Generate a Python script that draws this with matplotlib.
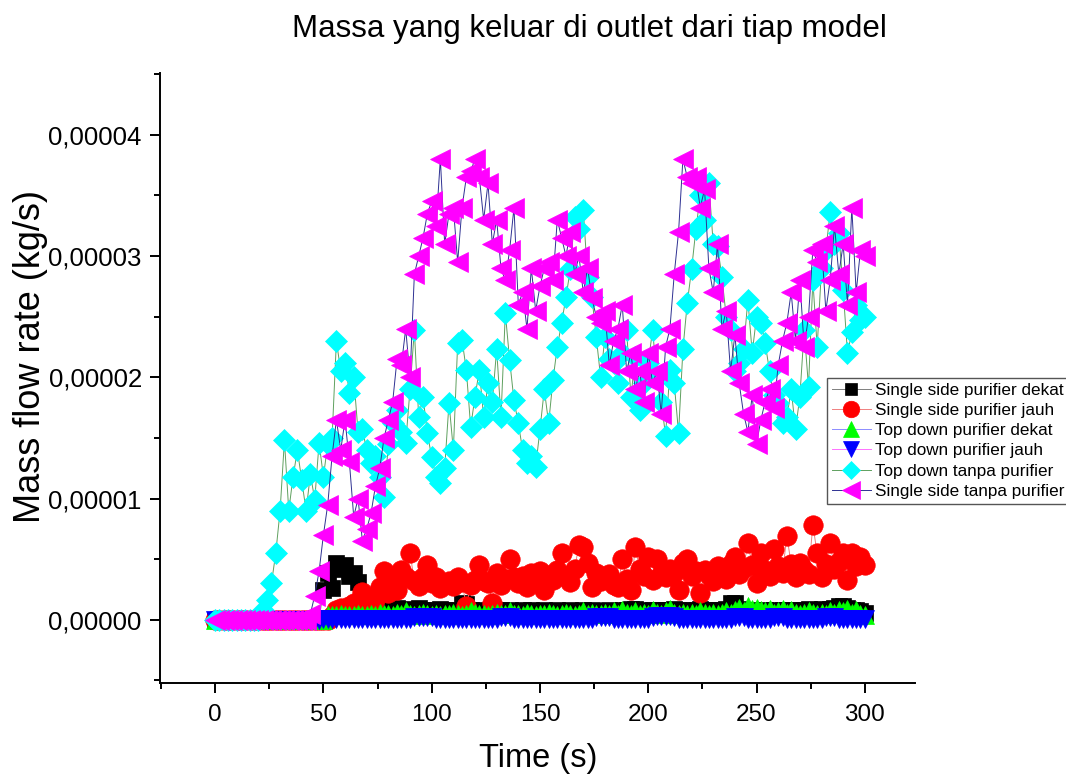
"""Mass flow rate leaving the outlet for each purifier configuration."""

import matplotlib
matplotlib.use("Agg")
import matplotlib.pyplot as plt
import numpy as np
from matplotlib.ticker import FuncFormatter, MultipleLocator

plt.rcParams["font.family"] = ["Liberation Sans", "DejaVu Sans"]

# sample time (s), one record every 2 s
TIME = np.arange(0, 302, 2)

# mass flow rate per configuration, in 1e-6 kg/s
SINGLE_DEKAT = [
    0, 0, 0, 0, 0, 0, 0, 0, 0, 0,
    0, 0, 0, 0, 0, 0, 0, 0, 0, 0,
    0, 0, 0, 0, 0, 2.5, 3.9, 2.6, 4.7, 4.2,
    4.5, 3.6, 3.9, 3.1, 1.5, 1.2, 1.0, 0.9, 1.0, 1.1,
    0.9, 0.8, 1.0, 0.8, 0.9, 0.7, 0.8, 1.0, 0.8, 0.7,
    0.8, 0.7, 0.9, 0.8, 0.7, 0.8, 0.7, 1.4, 1.3, 0.8,
    0.7, 0.8, 0.7, 0.7, 0.8, 0.7, 0.8, 0.7, 0.8, 0.7,
    0.7, 0.8, 0.7, 0.8, 0.7, 0.7, 0.8, 0.7, 0.7, 0.8,
    0.7, 0.7, 0.8, 0.7, 0.7, 0.8, 0.7, 0.8, 0.7, 0.7,
    0.7, 0.8, 0.7, 0.7, 0.8, 0.8, 0.9, 0.9, 0.8, 0.7,
    0.7, 0.8, 0.8, 0.7, 0.8, 0.8, 0.9, 0.8, 0.8, 0.7,
    0.7, 0.8, 0.9, 0.8, 0.8, 0.7, 0.8, 0.8, 0.9, 1.4,
    1.4, 0.9, 0.8, 0.7, 0.8, 0.7, 0.7, 0.8, 0.7, 0.8,
    0.7, 0.8, 0.7, 0.8, 0.7, 0.8, 0.8, 0.9, 0.8, 0.8,
    0.9, 0.8, 0.9, 1.0, 1.1, 1.1, 1.0, 0.8, 0.8, 0.7,
    0.6,
]

SINGLE_JAUH = [
    0, 0, 0, 0, 0, 0, 0, 0, 0, 0,
    0, 0, 0, 0, 0, 0, 0, 0, 0, 0,
    0, 0, 0, 0, 0, 0, 0, 0.3, 0.8, 1.0,
    0.9, 1.1, 1.4, 1.3, 2.3, 1.5, 1.8, 1.6, 2.7, 4.0,
    2.2, 3.0, 2.5, 4.1, 3.5, 5.5, 3.2, 2.8, 3.5, 4.5,
    3.0, 3.5, 2.6, 3.0, 3.2, 2.8, 3.5, 3.1, 1.1, 2.9,
    3.3, 4.5, 3.2, 3.0, 1.4, 3.9, 2.9, 3.4, 5.0, 3.5,
    3.0, 3.6, 2.7, 3.9, 3.4, 4.0, 2.5, 3.7, 3.3, 4.1,
    5.5, 3.6, 3.1, 4.2, 6.2, 6.0, 4.7, 2.7, 3.9, 3.2,
    3.5, 3.8, 2.9, 2.7, 5.0, 3.4, 2.5, 6.0, 4.2, 3.6,
    5.2, 3.3, 5.0, 3.8, 3.5, 4.2, 3.9, 2.5, 4.7, 5.0,
    3.6, 4.0, 2.2, 4.1, 3.7, 3.2, 4.4, 3.9, 3.4, 4.6,
    5.2, 3.8, 4.3, 6.3, 4.5, 3.0, 5.5, 4.1, 3.6, 5.8,
    4.4, 3.9, 6.9, 4.6, 3.5, 4.7, 4.1, 3.8, 7.8, 5.5,
    3.5, 4.6, 6.3, 4.2, 4.8, 5.5, 3.3, 5.5, 4.4, 5.2,
    4.5,
]

TOPDOWN_DEKAT = [
    0, 0, 0, 0, 0, 0, 0, 0, 0, 0,
    0, 0, 0, 0, 0, 0, 0, 0, 0, 0,
    0, 0, 0, 0, 0, 0, 0.4, 0.4, 0.4, 0.5,
    0.4, 0.4, 0.4, 0.5, 0.4, 0.4, 0.5, 0.4, 0.6, 0.5,
    0.5, 0.4, 0.6, 0.5, 0.7, 0.5, 0.4, 0.5, 0.6, 0.5,
    0.4, 0.5, 0.4, 0.5, 0.5, 0.6, 0.5, 0.4, 0.5, 0.7,
    0.6, 0.5, 0.5, 0.4, 0.5, 0.6, 0.5, 0.5, 0.7, 0.5,
    0.5, 0.4, 0.6, 0.5, 0.4, 0.5, 0.5, 0.6, 0.5, 0.4,
    0.5, 0.6, 0.5, 0.4, 0.5, 0.7, 0.5, 0.6, 0.5, 0.5,
    0.6, 0.5, 0.7, 0.5, 0.8, 0.6, 0.5, 0.7, 0.5, 0.6,
    0.5, 0.8, 0.6, 0.5, 0.7, 0.9, 0.6, 0.5, 0.6, 0.5,
    0.6, 0.5, 0.7, 0.6, 0.5, 0.6, 0.5, 0.6, 0.7, 0.6,
    0.8, 1.0, 0.7, 1.1, 0.9, 1.0, 0.8, 0.7, 0.9, 0.6,
    0.7, 0.9, 0.6, 0.8, 0.6, 0.5, 0.6, 0.7, 0.6, 0.5,
    0.6, 0.5, 0.7, 0.6, 0.8, 0.7, 0.9, 0.6, 0.8, 0.5,
    0.4,
]

TOPDOWN_JAUH = [
    0, 0, 0, 0, 0, 0, 0, 0, 0, 0,
    0, 0, 0, 0, 0, 0, 0, 0, 0, 0,
    0, 0, 0, 0, 0, 0.1, 0.1, 0.1, 0.1, 0.1,
    0.1, 0.1, 0.1, 0.1, 0.1, 0.1, 0.1, 0.1, 0.1, 0.1,
    0.1, 0.1, 0.1, 0.1, 0.1, 0.1, 0.2, 0.2, 0.2, 0.2,
    0.2, 0.1, 0.1, 0.1, 0.1, 0.1, 0.1, 0.1, 0.1, 0.1,
    0.1, 0.1, 0.1, 0.1, 0.1, 0.1, 0.2, 0.2, 0.2, 0.1,
    0.1, 0.1, 0.1, 0.1, 0.1, 0.1, 0.1, 0.1, 0.1, 0.1,
    0.1, 0.1, 0.1, 0.1, 0.1, 0.1, 0.1, 0.1, 0.2, 0.2,
    0.2, 0.2, 0.1, 0.1, 0.1, 0.1, 0.1, 0.1, 0.1, 0.1,
    0.1, 0.2, 0.3, 0.3, 0.3, 0.3, 0.2, 0.1, 0.1, 0.1,
    0.1, 0.1, 0.1, 0.1, 0.1, 0.1, 0.1, 0.1, 0.1, 0.1,
    0.2, 0.2, 0.2, 0.1, 0.1, 0.1, 0.1, 0.1, 0.1, 0.2,
    0.2, 0.2, 0.1, 0.1, 0.1, 0.1, 0.1, 0.1, 0.1, 0.1,
    0.1, 0.2, 0.2, 0.2, 0.1, 0.1, 0.1, 0.1, 0.1, 0.1,
    0.1,
]

TOPDOWN_TANPA = [
    0, 0, 0, 0, 0, 0, 0, 0, 0, 0,
    0, 0.8, 1.6, 3.0, 5.5, 9.0, 14.8, 9.0, 11.8, 14.0,
    11.5, 9.0, 12.0, 9.9, 14.6, 11.8, 14.5, 15.0, 23.0, 20.5,
    21.2, 18.7, 20.0, 15.5, 15.7, 14.0, 12.9, 13.5, 11.8, 10.1,
    14.5, 16.2, 17.3, 15.5, 14.6, 19.0, 23.9, 16.7, 18.4, 15.4,
    13.4, 11.8, 11.3, 12.5, 17.9, 14.0, 22.8, 23.1, 20.6, 15.9,
    18.4, 20.6, 16.7, 19.5, 18.0, 22.3, 16.7, 25.3, 21.4, 18.1,
    16.2, 14.0, 12.9, 13.5, 12.6, 15.7, 19.0, 16.2, 19.8, 22.5,
    24.5, 26.6, 28.9, 33.2, 32.2, 33.8, 28.3, 26.6, 23.3, 20.0,
    23.3, 21.5, 21.2, 19.5, 22.0, 23.9, 18.4, 21.7, 17.3, 19.5,
    21.2, 23.9, 20.0, 18.0, 15.2, 20.6, 19.5, 15.4, 22.3, 26.1,
    28.9, 32.2, 35.0, 33.0, 36.0, 31.0, 30.8, 28.3, 25.0, 23.9,
    20.5, 21.2, 22.3, 26.4, 22.0, 25.0, 24.5, 22.8, 20.5, 18.5,
    17.9, 16.2, 16.7, 19.0, 15.7, 18.4, 23.9, 19.2, 28.0, 22.5,
    29.0, 30.5, 33.6, 31.0, 31.9, 27.2, 22.0, 23.7, 26.0, 24.7,
    25.0,
]

SINGLE_TANPA = [
    0, 0, 0, 0, 0, 0, 0, 0, 0, 0,
    0, 0, 0, 0, 0, 0, 0, 0, 0, 0,
    0, 0, 0.5, 2.0, 4.0, 7.0, 9.5, 13.5, 16.5, 14.0,
    16.5, 13.0, 8.5, 10.0, 6.5, 7.5, 8.8, 11.0, 12.5, 15.0,
    16.5, 18.0, 21.5, 21.0, 24.0, 20.0, 28.5, 30.0, 31.5, 33.5,
    34.5, 32.5, 38.0, 31.0, 33.5, 34.0, 29.5, 34.0, 36.5, 37.0,
    38.0, 36.5, 33.0, 36.0, 31.0, 33.0, 29.0, 28.0, 30.5, 34.0,
    26.0, 27.0, 24.0, 29.0, 25.5, 27.5, 29.0, 29.5, 28.0, 33.0,
    31.5, 30.0, 32.0, 28.5, 30.0, 27.0, 29.0, 26.5, 25.0, 24.5,
    25.5, 21.0, 23.0, 24.0, 26.0, 20.5, 22.0, 19.0, 20.5, 18.0,
    22.0, 19.5, 20.5, 17.0, 22.5, 24.0, 28.5, 32.0, 38.0, 36.5,
    36.0, 36.5, 34.0, 35.5, 29.0, 27.0, 31.0, 24.0, 25.5, 20.5,
    23.5, 19.5, 17.0, 15.5, 18.5, 14.5, 16.5, 18.0, 19.0, 17.5,
    21.0, 23.0, 24.5, 27.0, 23.0, 28.0, 22.5, 25.0, 30.5, 29.5,
    31.0, 25.5, 28.0, 32.5, 28.5, 31.0, 26.0, 34.0, 27.0, 30.5,
    30.0,
]

LABELS = [
    "Single side purifier dekat",
    "Single side purifier jauh",
    "Top down purifier dekat",
    "Top down purifier jauh",
    "Top down tanpa purifier",
    "Single side tanpa purifier",
]

# (marker, marker colour, line colour, marker size)
STYLES = [
    ("s", "#000000", "#7f7f7f", 11.0),
    ("o", "#ff0000", "#f08080", 14.0),
    ("^", "#00ff00", "#8c8cff", 13.0),
    ("v", "#0000ff", "#ff70ff", 13.0),
    ("D", "#00ffff", "#5fa05f", 11.0),
    ("<", "#ff00ff", "#2e3192", 15.0),
]

SERIES = [SINGLE_DEKAT, SINGLE_JAUH, TOPDOWN_DEKAT,
          TOPDOWN_JAUH, TOPDOWN_TANPA, SINGLE_TANPA]


def comma_fmt(v, _pos):
    return f"{v:.5f}".replace(".", ",").replace("-", "\u2212")


fig = plt.figure(figsize=(10.66, 7.76), dpi=100)
ax = fig.add_axes([0.150, 0.120, 0.708, 0.786])

for values, label, (mk, mc, lc, ms) in zip(SERIES, LABELS, STYLES):
    ax.plot(TIME, np.asarray(values) * 1e-6, color=lc, linewidth=0.7,
            marker=mk, markersize=ms, markerfacecolor=mc,
            markeredgecolor=mc, markeredgewidth=0.5, label=label)

ax.set_xlim(-25.5, 323)
ax.set_ylim(-0.52e-5, 4.51e-5)

ax.xaxis.set_major_locator(MultipleLocator(50))
ax.xaxis.set_minor_locator(MultipleLocator(25))
ax.yaxis.set_major_locator(MultipleLocator(1e-5))
ax.yaxis.set_minor_locator(MultipleLocator(0.5e-5))
ax.yaxis.set_major_formatter(FuncFormatter(comma_fmt))
ax.yaxis.get_offset_text().set_visible(False)

for side in ("top", "right"):
    ax.spines[side].set_visible(False)
for side in ("left", "bottom"):
    ax.spines[side].set_linewidth(1.4)

ax.tick_params(which="both", direction="out", width=1.4, colors="#000000")
ax.tick_params(axis="y", labelsize=18.5, pad=6)
ax.tick_params(axis="x", labelsize=17.5, pad=8)
ax.tick_params(which="major", length=7)
ax.tick_params(which="minor", length=4)

fig.text(0.5045, 0.002, "Time (s)", ha="center", va="bottom", fontsize=23.5)
fig.text(0.029, 0.54, "Mass flow rate (kg/s)", ha="center", va="center",
         rotation=90, fontsize=26)
fig.text(0.5525, 0.963, "Massa yang keluar di outlet dari tiap model",
         ha="center", va="center", fontsize=22.5)

leg = fig.legend(loc="upper left", bbox_to_anchor=(0.7755, 0.513),
                 fontsize=12.3, frameon=True, fancybox=False, framealpha=1,
                 edgecolor="#555555", borderpad=0.3, labelspacing=0.3,
                 handlelength=2.3, handletextpad=0.2, borderaxespad=0,
                 markerscale=0.85)
leg.get_frame().set_linewidth(1.0)

fig.savefig("out.png", dpi=100)
